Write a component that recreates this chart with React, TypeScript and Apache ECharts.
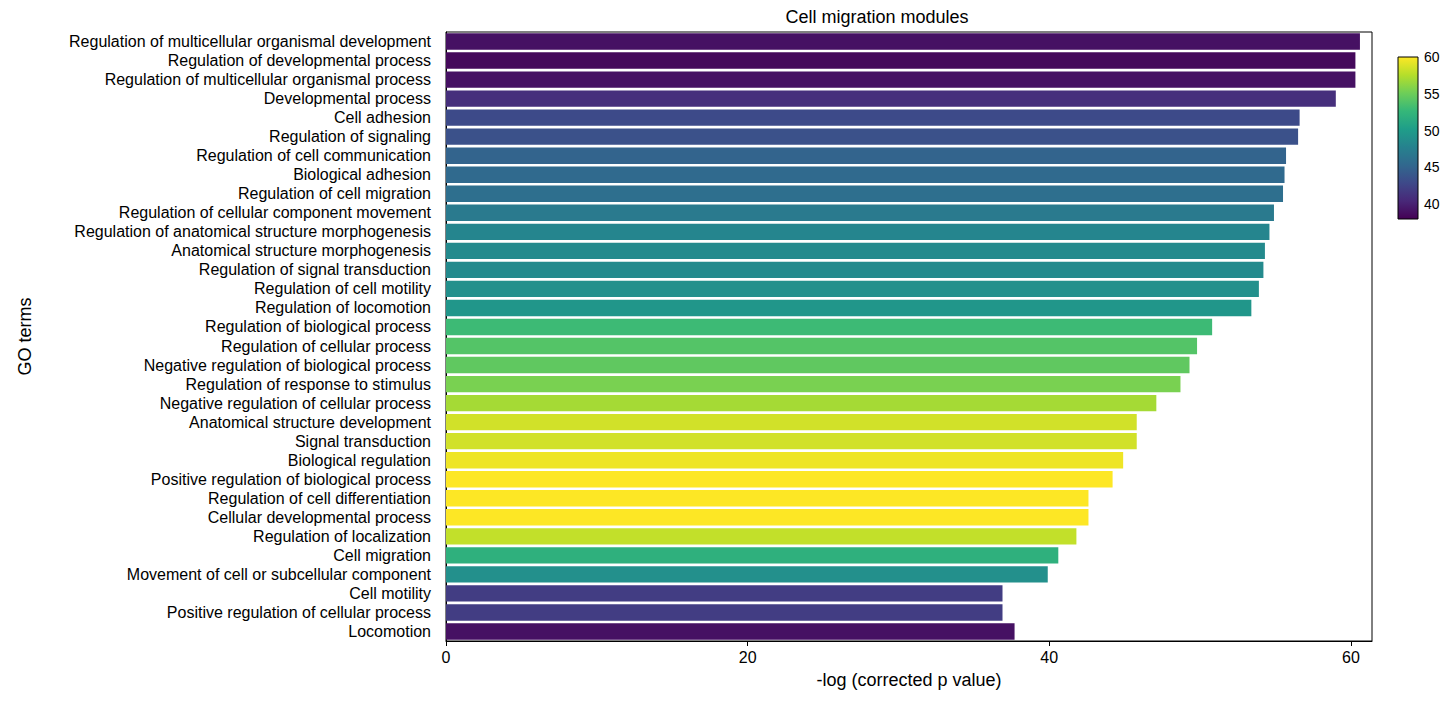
import React, { useEffect, useRef } from 'react';
import * as echarts from 'echarts';

const terms = [
  'Regulation of multicellular organismal development',
  'Regulation of developmental process',
  'Regulation of multicellular organismal process',
  'Developmental process',
  'Cell adhesion',
  'Regulation of signaling',
  'Regulation of cell communication',
  'Biological adhesion',
  'Regulation of cell migration',
  'Regulation of cellular component movement',
  'Regulation of anatomical structure morphogenesis',
  'Anatomical structure morphogenesis',
  'Regulation of signal transduction',
  'Regulation of cell motility',
  'Regulation of locomotion',
  'Regulation of biological process',
  'Regulation of cellular process',
  'Negative regulation of biological process',
  'Regulation of response to stimulus',
  'Negative regulation of cellular process',
  'Anatomical structure development',
  'Signal transduction',
  'Biological regulation',
  'Positive regulation of biological process',
  'Regulation of cell differentiation',
  'Cellular developmental process',
  'Regulation of localization',
  'Cell migration',
  'Movement of cell or subcellular component',
  'Cell motility',
  'Positive regulation of cellular process',
  'Locomotion',
];

const logP = [
  60.6, 60.3, 60.3, 59.0, 56.6, 56.5, 55.7, 55.6, 55.5, 54.9, 54.6, 54.3, 54.2, 53.9, 53.4, 50.8,
  49.8, 49.3, 48.7, 47.1, 45.8, 45.8, 44.9, 44.2, 42.6, 42.6, 41.8, 40.6, 39.9, 36.9, 36.9, 37.7,
];

const colorValue = [
  39, 38.5, 39, 41, 43, 43.5, 45, 45.5, 46, 47, 48, 48.5, 48.5, 49, 49.5, 53,
  54, 54.5, 55.5, 57, 58.5, 58.5, 59.5, 60, 60, 60, 58, 52, 49, 42, 42, 39,
];

const viridis = ['#440154', '#482878', '#3e4989', '#31688e', '#26828e', '#1f9e89', '#35b779', '#6ece58', '#b5de2b', '#fde725'];

const App: React.FC = () => {
  const chartRef = useRef<HTMLDivElement | null>(null);

  useEffect(() => {
    if (!chartRef.current) return;
    const chart = echarts.init(chartRef.current, null, { renderer: 'svg' });
    const font = 'Liberation Sans, Arial, sans-serif';
    const option: echarts.EChartsOption = {
      animation: false,
      textStyle: { fontFamily: font },
      title: {
        text: 'Cell migration modules',
        left: 869, top: 0, padding: 0, textAlign: 'center',
        textStyle: { fontSize: 18, fontWeight: 'normal', color: '#000', fontFamily: font },
      },
      grid: [
        { left: 435, right: 76, top: 24, bottom: 42, show: true, borderColor: '#000', borderWidth: 1, backgroundColor: 'transparent' },
        { left: 1390, width: 20, top: 49, height: 162 },
      ],
      visualMap: {
        show: false, type: 'continuous', min: 38, max: 60, dimension: 2, seriesIndex: 0,
        inRange: { color: viridis },
      },
      xAxis: [
        {
          gridIndex: 0, type: 'value', min: 0, max: 61.4, interval: 20,
          name: '-log (corrected p value)', nameLocation: 'middle', nameGap: 30,
          nameTextStyle: { fontSize: 18, color: '#000' },
          axisLine: { show: true, lineStyle: { color: '#000' } },
          axisTick: { show: true, length: 5, lineStyle: { color: '#000' } },
          axisLabel: { fontSize: 16, color: '#000', showMaxLabel: false },
          splitLine: { show: false },
        },
        { gridIndex: 1, type: 'value', show: false, min: 0, max: 1 },
      ],
      yAxis: [
        {
          gridIndex: 0, type: 'category', data: terms, inverse: true,
          name: 'GO terms', nameLocation: 'middle', nameGap: 412, nameRotate: 90,
          nameTextStyle: { fontSize: 18, color: '#000' },
          axisLine: { show: true, lineStyle: { color: '#000' } },
          axisTick: { show: false },
          axisLabel: { fontSize: 16, color: '#000', margin: 15, interval: 0 },
        },
        {
          gridIndex: 1, type: 'value', min: 38, max: 60, interval: 1, position: 'right',
          axisLine: { show: false }, axisTick: { show: false }, splitLine: { show: false },
          axisLabel: { fontSize: 14, color: '#000', margin: 6, formatter: (v: number) => (v % 5 === 0 ? String(v) : '') },
        },
      ],
      graphic: [
        {
          type: 'rect', shape: { x: 1390, y: 49, width: 20, height: 162 },
          style: {
            fill: new echarts.graphic.LinearGradient(0, 1, 0, 0, viridis.map((c, i) => ({ offset: i / (viridis.length - 1), color: c }))),
            stroke: '#000', lineWidth: 1,
          },
          z: 10,
        },
      ],
      series: [
        {
          type: 'bar', xAxisIndex: 0, yAxisIndex: 0, barCategoryGap: '14%',
          data: terms.map((t, i) => [logP[i], t, colorValue[i]]),
          encode: { x: 0, y: 1 },
        },
      ],
    };
    chart.setOption(option);
    return () => chart.dispose();
  }, []);

  return <div ref={chartRef} style={{ width: 1440, height: 686 }} />;
};

export default App;
